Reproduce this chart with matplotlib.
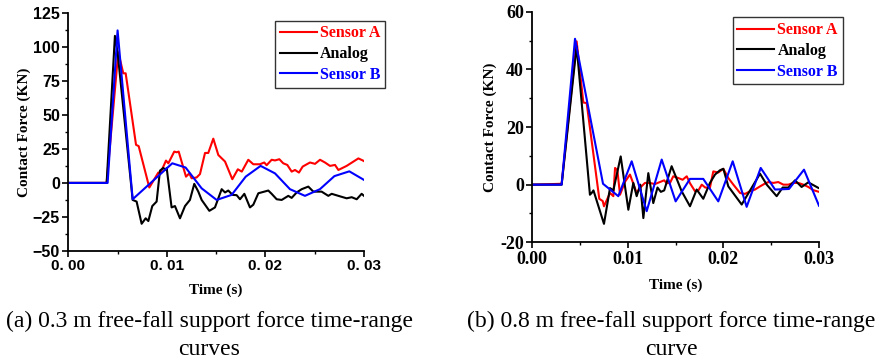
import matplotlib
matplotlib.use("Agg")
import matplotlib.pyplot as plt
from matplotlib.ticker import MultipleLocator, FixedLocator

# ---- (a) 0.3 m free fall ----
t_a_sensorA = [0, 0.00389, 0.00507, 0.00558, 0.00582, 0.00687, 0.00714, 0.00822, 0.00913, 0.00934,
               0.00991, 0.01015, 0.01075, 0.01099, 0.01120, 0.01194, 0.01228, 0.01251, 0.01302, 0.01336,
               0.01387, 0.01420, 0.01471, 0.01522, 0.01590, 0.01664, 0.01720, 0.01760, 0.01826, 0.01877,
               0.01944, 0.01988, 0.02012, 0.02063, 0.02097, 0.02141, 0.02181, 0.02222, 0.02266, 0.02300,
               0.02340, 0.02378, 0.02452, 0.02503, 0.02554, 0.02604, 0.02655, 0.02706, 0.02740, 0.02824,
               0.02943, 0.02990, 0.03]
f_a_sensorA = [0, 0, 96, 80.5, 80.5, 28, 27, -3.4, 7.6, 7,
               16.4, 14.4, 23, 22.5, 23, 4.6, 7, 3.4, 4, 6.5,
               22, 22, 32.5, 20.5, 15.7, 2.7, 10, 8.3, 17, 13.7,
               13.7, 15, 13, 17, 16.5, 17.4, 14.4, 13.2, 8.3, 9.5,
               7.6, 12, 15, 14, 17, 15, 12.5, 13.2, 9.5, 12.5,
               18, 16.4, 16]

t_a_analog = [0, 0.00389, 0.00473, 0.00500, 0.00653, 0.00693, 0.00744, 0.00785, 0.00812, 0.00852,
              0.00896, 0.00930, 0.00964, 0.00988, 0.00998, 0.01048, 0.01082, 0.01133, 0.01184, 0.01234,
              0.01278, 0.01319, 0.01353, 0.01431, 0.01488, 0.01556, 0.01590, 0.01623, 0.01667, 0.01708,
              0.01742, 0.01786, 0.01843, 0.01877, 0.01928, 0.02029, 0.02063, 0.02114, 0.02165, 0.02232,
              0.02266, 0.02317, 0.02368, 0.02435, 0.02486, 0.02570, 0.02638, 0.02672, 0.02740, 0.02824,
              0.02875, 0.02926, 0.02976, 0.03]
f_a_analog = [0, 0, 108, 96, -12.5, -13.7, -30, -26, -28, -17,
              -13.7, 9, 11, 9.5, 11, -18, -17, -26, -17, -12.5,
              -0.7, -6.4, -12.5, -20.5, -18, -4.6, -7, -5.6, -8.8, -9,
              -12, -8, -18, -16, -7.6, -5.6, -8, -12, -12.5, -9.5,
              -11, -7, -4.6, -2.7, -6.4, -6.4, -9.5, -8, -9.5, -11.3,
              -10.5, -12, -8, -9.5]

t_a_sensorB = [0, 0.00399, 0.00500, 0.00653, 0.01055, 0.01190, 0.01353, 0.01505, 0.01657, 0.01800,
               0.01951, 0.02097, 0.02249, 0.02401, 0.02553, 0.02700, 0.02851, 0.03]
f_a_sensorB = [0, 0, 112, -12, 14.4, 11.3, -4, -12.5, -8.8, 4.6,
               12.5, 7, -4.6, -9.5, -4.6, 5, 8.5, 2.2]

# ---- (b) 0.8 m free fall ----
t_b_sensorA = [0, 0.00307, 0.00464, 0.00534, 0.00569, 0.00701, 0.00737, 0.00750, 0.00813, 0.00848,
               0.00866, 0.00890, 0.00918, 0.00970, 0.01022, 0.01050, 0.01092, 0.01130, 0.01179, 0.01230,
               0.01283, 0.01335, 0.01380, 0.01405, 0.01441, 0.01475, 0.01528, 0.01573, 0.01616, 0.01650,
               0.01703, 0.01738, 0.01773, 0.01810, 0.01859, 0.01894, 0.01946, 0.01999, 0.02051, 0.02104,
               0.02174, 0.02226, 0.02278, 0.02330, 0.02383, 0.02430, 0.02470, 0.02522, 0.02574, 0.02627,
               0.02679, 0.02731, 0.02784, 0.02836, 0.02888, 0.02940, 0.03]
f_b_sensorA = [0, 0.3, 49.7, 28.5, 28.3, -4.9, -5.7, -7.5, -2.9, -4,
               5.8, 5, -3.5, 1, 3.5, 1, -2.9, -1, 0.6, 0.6,
               0.2, 0.9, 1.5, 0.5, 0.6, 2.9, 2.3, 1.7, 2.9, 0.5,
               -2.3, -2.0, 0, -1, -1, 4.6, 4.2, 5.5, 2.3, 0,
               -2.9, -3.2, -2.3, -1.7, -0.6, 0.3, 0.9, 0.6, 0.9, 0,
               0, 0.6, 0.6, 0, -0.8, -1.9, -2.5]

t_b_analog = [0, 0.00307, 0.00464, 0.00603, 0.00621, 0.00640, 0.00750, 0.00813, 0.00848, 0.00925,
              0.01005, 0.01057, 0.01092, 0.01130, 0.01162, 0.01214, 0.01266, 0.01310, 0.01345, 0.01380,
              0.01458, 0.01563, 0.01650, 0.01720, 0.01789, 0.01859, 0.01912, 0.01964, 0.01999, 0.02051,
              0.02191, 0.02383, 0.02453, 0.02557, 0.02620, 0.02679, 0.02749, 0.02818, 0.02888, 0.02992,
              0.03]
f_b_analog = [0, 0, 48, -3.5, -2.9, -2, -13.6, -1.2, -2, 9.8,
              -8.7, 0.6, -4, 0, -11.6, 4, -6.4, -1, -2.5, -2,
              6.4, -2.3, -7.5, -1.7, -4.9, 0.6, 3.5, 5, 5.5, -0.6,
              -6.9, 3.8, 0, -4, -1, -1, 1.5, -0.8, 0.8, -1.1,
              -1.2]

t_b_sensorB = [0, 0.00307, 0.00447, 0.00740, 0.00900, 0.01040, 0.01197, 0.01354, 0.01500, 0.01650,
               0.01789, 0.01946, 0.02097, 0.02243, 0.02390, 0.02540, 0.02686, 0.02843, 0.03]
f_b_sensorB = [0, 0, 50.6, 0.3, -4, 8.1, -9.2, 8.7, -5.8, 2,
               2, -5.8, 8.1, -7.7, 5.8, -1.7, -1.5, 5.2, -7.3]

series_names = ["Sensor A", "Analog", "Sensor B"]
colors = ["#ff0000", "#000000", "#0000ff"]

W, H = 881, 361
fig = plt.figure(figsize=(W / 100, H / 100), dpi=100)

serif = "Liberation Serif"
sans = "Liberation Sans"


def px_axes(x0, y0, x1, y1):
    return fig.add_axes([x0 / W, 1 - y1 / H, (x1 - x0) / W, (y1 - y0) / H])


def style(ax):
    ax.spines["top"].set_visible(False)
    ax.spines["right"].set_visible(False)
    ax.spines["left"].set_linewidth(1.3)
    ax.spines["bottom"].set_linewidth(1.3)
    ax.tick_params(which="major", direction="out", length=4, width=1.2, pad=2)
    ax.tick_params(which="minor", direction="out", length=2.5, width=1.0)


# left panel
ax1 = px_axes(68.3, 12.7, 364, 251)
for t, f, name, c in zip([t_a_sensorA, t_a_analog, t_a_sensorB],
                         [f_a_sensorA, f_a_analog, f_a_sensorB], series_names, colors):
    ax1.plot(t, f, color=c, lw=1.5, label=name)
ax1.set_xlim(0, 0.03)
ax1.set_ylim(-50, 125)
style(ax1)
ax1.xaxis.set_major_locator(FixedLocator([0, 0.01, 0.02, 0.03]))
ax1.xaxis.set_minor_locator(MultipleLocator(0.005))
ax1.yaxis.set_minor_locator(MultipleLocator(12.5))
ax1.set_xticklabels(["0. 00", "0. 01", "0. 02", "0. 03"],
                    fontfamily=sans, fontweight="bold", fontsize=11)
ax1.set_yticks([-50, -25, 0, 25, 50, 75, 100, 125])
ax1.set_yticklabels(["\u221250", "\u221225", "0", "25", "50", "75", "100", "125"],
                    fontfamily=sans, fontweight="bold", fontsize=11.5)
ax1.set_xlabel("Time (s)", fontfamily=serif, fontweight="bold", fontsize=11, labelpad=7)
ax1.set_ylabel("Contact Force (KN)", fontfamily=serif, fontweight="bold", fontsize=11, labelpad=1)

# right panel
ax2 = px_axes(532.3, 11.7, 819, 242.3)
for t, f, name, c in zip([t_b_sensorA, t_b_analog, t_b_sensorB],
                         [f_b_sensorA, f_b_analog, f_b_sensorB], series_names, colors):
    ax2.plot(t, f, color=c, lw=1.5, label=name)
ax2.set_xlim(0, 0.03)
ax2.set_ylim(-20, 60)
style(ax2)
ax2.xaxis.set_major_locator(FixedLocator([0, 0.01, 0.02, 0.03]))
ax2.xaxis.set_minor_locator(MultipleLocator(0.005))
ax2.yaxis.set_minor_locator(MultipleLocator(10))
ax2.set_xticklabels(["0.00", "0.01", "0.02", "0.03"],
                    fontfamily=serif, fontweight="bold", fontsize=13)
ax2.set_yticks([-20, 0, 20, 40, 60])
ax2.set_yticklabels(["-20", "0", "20", "40", "60"],
                    fontfamily=serif, fontweight="bold", fontsize=13)
ax2.set_xlabel("Time (s)", fontfamily=serif, fontweight="bold", fontsize=11, labelpad=8)
ax2.set_ylabel("Contact Force (KN)", fontfamily=serif, fontweight="bold", fontsize=11, labelpad=2)

# legends (boxes stick out past the right edge of each plot)
for ax, (lx0, ly0) in [(ax1, (275, 20.7)), (ax2, (732.7, 17.3))]:
    leg = ax.legend(loc="upper left", bbox_to_anchor=(lx0 / W, 1 - ly0 / H),
                    bbox_transform=fig.transFigure, frameon=True, fancybox=False,
                    edgecolor="black", borderpad=0.3, handlelength=2.3, handletextpad=0.2,
                    labelspacing=0.3, borderaxespad=0,
                    prop={"family": serif, "weight": "bold", "size": 11.5})
    leg.get_frame().set_linewidth(1.0)
    for txt, c in zip(leg.get_texts(), colors):
        txt.set_color(c)

# captions
fig.text(209 / W, 1 - 311 / H, "(a) 0.3 m free-fall support force time-range\ncurves",
         ha="center", va="top", fontfamily=serif, fontsize=17, linespacing=1.4)
fig.text(671 / W, 1 - 311 / H, "(b) 0.8 m free-fall support force time-range\ncurve",
         ha="center", va="top", fontfamily=serif, fontsize=17, linespacing=1.4)

fig.savefig("out.png", dpi=100)
